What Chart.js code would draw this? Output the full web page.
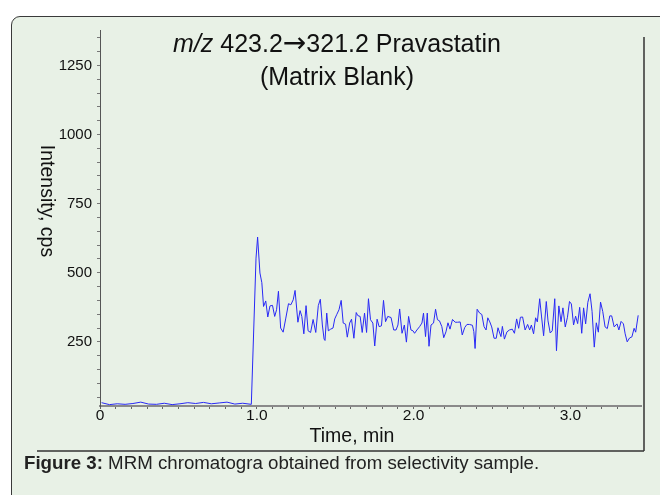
<!DOCTYPE html>
<html>
<head>
    <title>MRM Chromatogram</title>
    <script src="https://cdn.jsdelivr.net/npm/chart.js"></script>
    <style>
        body { margin: 0; background: #fff; width: 660px; height: 495px; overflow: hidden; position: relative; }
        #panel { position: absolute; left: 11px; top: 16px; width: 690px; height: 500px;
                 border: 1.5px solid #3a3a3a; border-radius: 9px; background: #e8f1e6; }
        #wrap { position: absolute; left: 0; top: 0; width: 660px; height: 460px; }
        #caption { position: absolute; left: 24px; top: 452px; font-family: "Liberation Sans", Arial, sans-serif;
                   font-size: 18.7px; color: #222; white-space: nowrap; }
    </style>
</head>
<body>
    <div id="panel"></div>
    <div id="wrap"><canvas id="myChart" width="660" height="460"></canvas></div>
    <div id="caption"><b>Figure 3:</b> MRM chromatogra obtained from selectivity sample.</div>

    <script>
        // time (min) and intensity (cps)
        const times = [
            0.01, 0.06, 0.11, 0.16, 0.21, 0.26, 0.31, 0.36, 0.41, 0.46,
            0.51, 0.56, 0.61, 0.66, 0.71, 0.76, 0.81, 0.86, 0.91, 0.965,
            0.995, 1.005, 1.020, 1.032, 1.043, 1.057, 1.070, 1.084, 1.100, 1.114,
            1.126, 1.138, 1.152, 1.168, 1.185, 1.202, 1.217, 1.232, 1.244, 1.262,
            1.276, 1.287, 1.300, 1.314, 1.327, 1.343, 1.359, 1.376, 1.392, 1.405,
            1.418, 1.429, 1.435, 1.446, 1.456, 1.471, 1.486, 1.497, 1.509, 1.524,
            1.538, 1.551, 1.566, 1.577, 1.592, 1.604, 1.619, 1.634, 1.644, 1.659,
            1.672, 1.687, 1.700, 1.712, 1.725, 1.740, 1.752, 1.767, 1.780, 1.795,
            1.808, 1.821, 1.835, 1.856, 1.873, 1.888, 1.900, 1.911, 1.926, 1.941,
            1.954, 1.968, 1.983, 1.996, 2.006, 2.021, 2.038, 2.053, 2.063, 2.076,
            2.087, 2.098, 2.111, 2.127, 2.140, 2.152, 2.165, 2.180, 2.192, 2.206,
            2.219, 2.232, 2.248, 2.265, 2.281, 2.297, 2.310, 2.326, 2.340, 2.356,
            2.375, 2.384, 2.392, 2.405, 2.421, 2.435, 2.449, 2.462, 2.473, 2.486,
            2.498, 2.513, 2.527, 2.538, 2.549, 2.557, 2.566, 2.579, 2.595, 2.611,
            2.629, 2.643, 2.657, 2.670, 2.681, 2.695, 2.711, 2.727, 2.740, 2.751,
            2.765, 2.778, 2.789, 2.804, 2.816, 2.829, 2.846, 2.857, 2.871, 2.884,
            2.900, 2.911, 2.926, 2.940, 2.952, 2.967, 2.981, 2.994, 3.006, 3.020,
            3.033, 3.046, 3.059, 3.072, 3.084, 3.097, 3.111, 3.125, 3.138, 3.152,
            3.165, 3.178, 3.192, 3.206, 3.221, 3.235, 3.251, 3.263, 3.279, 3.297,
            3.309, 3.323, 3.338, 3.349, 3.362, 3.377, 3.392, 3.406, 3.416, 3.432
        ];
        const intensity = [
            30, 23, 26, 24, 27, 32, 25, 24, 28, 23,
            26, 30, 27, 31, 26, 29, 32, 25, 28, 24,
            553, 629, 499, 464, 378, 398, 340, 380, 382, 342,
            366, 433, 300, 285, 336, 388, 384, 402, 436, 321,
            363, 342, 279, 381, 290, 284, 331, 284, 381, 404,
            311, 260, 255, 354, 290, 296, 300, 333, 348, 366,
            400, 318, 314, 267, 318, 332, 263, 356, 345, 342,
            284, 354, 284, 406, 330, 318, 235, 332, 305, 308,
            400, 323, 342, 338, 293, 293, 311, 369, 281, 311,
            249, 342, 293, 290, 281, 293, 305, 318, 354, 269,
            354, 234, 311, 318, 368, 330, 326, 305, 265, 286,
            319, 296, 331, 321, 321, 322, 275, 302, 313, 313,
            310, 287, 226, 368, 354, 349, 305, 293, 337, 322,
            304, 263, 263, 301, 282, 269, 306, 260, 286, 293,
            296, 281, 333, 299, 339, 340, 293, 313, 293, 311,
            279, 337, 322, 406, 340, 272, 396, 326, 282, 290,
            406, 218, 380, 323, 373, 304, 339, 396, 387, 311,
            343, 316, 375, 281, 373, 315, 393, 424, 360, 231,
            319, 285, 394, 360, 304, 298, 344, 344, 304, 315,
            293, 324, 315, 279, 250, 264, 268, 299, 285, 346
        ];
        const xLabels = [0, 1, 2, 3];
        const yLabels = [250, 500, 750, 1000, 1250];
        const yMin = 18;
        const yMax = 1378;

        const titleParts = ['m/z', ' 423.2', '\u2192', '321.2 Pravastatin'];
        const titleLine2 = '(Matrix Blank)';
        const xTitle = 'Time, min';
        const yTitle = 'Intensity, cps';

        const FONT = '"Liberation Sans", Arial, sans-serif';

        let points = times.map((t, i) => ({ x: t, y: intensity[i] }));

        // titles, axis names and the frame round the plot
        const decor = {
            id: 'decor',
            afterDraw(chart) {
                const ctx = chart.ctx;
                const a = chart.chartArea;
                ctx.save();
                ctx.fillStyle = '#111';
                ctx.textBaseline = 'middle';

                // main title: italic m/z, arrow from DejaVu
                const fonts = ['italic 25px ' + FONT, '25px ' + FONT, '28px "DejaVu Sans"', '25px ' + FONT];
                let widths = titleParts.map((p, i) => { ctx.font = fonts[i]; return ctx.measureText(p).width; });
                let total = widths.reduce((s, w) => s + w, 0);
                let cx = 337;
                let x = cx - total / 2;
                ctx.textAlign = 'left';
                titleParts.forEach((p, i) => {
                    ctx.font = fonts[i];
                    ctx.fillText(p, x, i === 2 ? 45 : 45);
                    x += widths[i];
                });
                ctx.font = '25px ' + FONT;
                ctx.textAlign = 'center';
                ctx.fillText(titleLine2, cx, 78);

                // x axis name
                ctx.font = '19.5px ' + FONT;
                ctx.fillText(xTitle, 352, 437);

                // y axis name, reads top to bottom
                ctx.save();
                ctx.translate(46, 201);
                ctx.rotate(Math.PI / 2);
                ctx.font = '19.5px ' + FONT;
                ctx.fillText(yTitle, 0, 0);
                ctx.restore();

                // frame: right and bottom
                ctx.strokeStyle = '#333';
                ctx.lineWidth = 1.5;
                ctx.beginPath();
                ctx.moveTo(a.right + 3, 37);
                ctx.lineTo(a.right + 3, 451);
                ctx.moveTo(37, 451);
                ctx.lineTo(a.right + 3, 451);
                ctx.stroke();
                ctx.restore();
            }
        };

        let ctx = document.getElementById('myChart').getContext('2d');
        window.myChart = new Chart(ctx, {
            type: 'line',
            data: {
                datasets: [{
                    data: points,
                    borderColor: 'rgb(40, 40, 245)',
                    borderWidth: 1,
                    pointRadius: 0,
                    tension: 0,
                    fill: false
                }]
            },
            options: {
                responsive: false,
                animation: false,
                layout: { padding: { left: 0, top: 30, right: 19, bottom: 0 } },
                plugins: {
                    legend: { display: false },
                    tooltip: { enabled: false }
                },
                scales: {
                    x: {
                        type: 'linear',
                        min: 0,
                        max: 3.45,
                        afterFit: s => { s.height = 54; },
                        afterBuildTicks: s => {
                            s.ticks = s.ticks.filter(t => Math.abs(t.value * 10 - Math.round(t.value * 10)) < 1e-6);
                        },
                        border: { color: '#8a8a8a', width: 2 },
                        grid: { drawOnChartArea: false, tickLength: 3, color: '#666' },
                        ticks: {
                            stepSize: 0.1,
                            autoSkip: false,
                            maxTicksLimit: 100,
                            maxRotation: 0,
                            padding: -3,
                            color: '#111',
                            font: { family: FONT, size: 15.5 },
                            callback: v => {
                                let k = xLabels.find(l => Math.abs(l - v) < 1e-6);
                                if (k === undefined) return '';
                                return k === 0 ? '0' : k.toFixed(1);
                            }
                        }
                    },
                    y: {
                        min: yMin,
                        max: yMax,
                        afterFit: s => { s.width = 100; },
                        afterBuildTicks: s => {
                            s.ticks = [];
                            for (let v = 50; v <= yMax; v += 50) s.ticks.push({ value: v });
                        },
                        border: { color: '#555', width: 1 },
                        grid: { drawOnChartArea: false, tickLength: 3, color: '#777' },
                        ticks: {
                            autoSkip: false,
                            padding: 5,
                            color: '#111',
                            font: { family: FONT, size: 15 },
                            callback: v => yLabels.includes(v) ? String(v) : ''
                        }
                    }
                }
            },
            plugins: [decor]
        });
    </script>
</body>
</html>
